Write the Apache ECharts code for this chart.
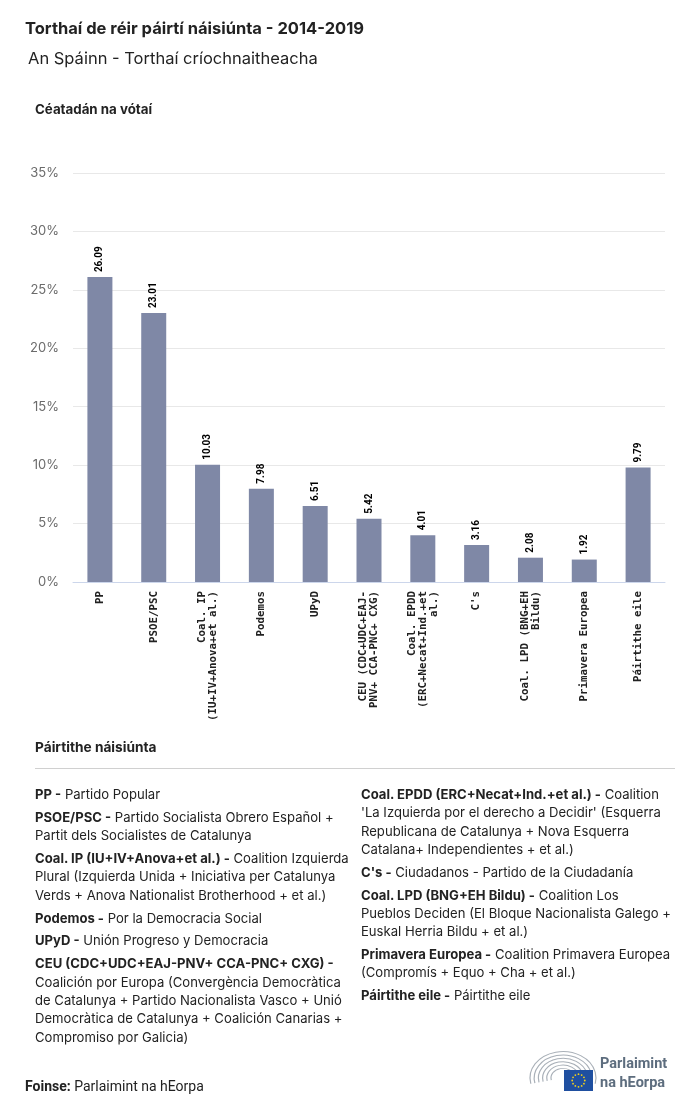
<!DOCTYPE html>
<html>
<head>
<meta charset="utf-8">
<script src="https://cdn.jsdelivr.net/npm/echarts@6/dist/echarts.min.js"></script>
<style>
  html, body { margin: 0; padding: 0; background: #fff; }
  #wrap { position: relative; width: 700px; height: 1113px; overflow: hidden; font-family: Inter, Roboto, "Noto Sans", sans-serif; color: #222; }
  #chart { position: absolute; left: 0; top: 0; width: 700px; height: 1113px; }
  .t { position: absolute; white-space: nowrap; }
  .col { position: absolute; top: 785px; font-size: 13.1px; line-height: 18.3px; color: #222; }
  .col p { margin: 0 0 4.6px 0; white-space: nowrap; }
  .col b { font-weight: 700; }
</style>
</head>
<body>
<div id="wrap">
  <div id="chart"></div>
  <div class="t" style="left:25px; top:18px; font-size:16.5px; font-weight:700;">Torthaí de réir páirtí náisiúnta - 2014-2019</div>
  <div class="t" style="left:28px; top:48px; font-size:16.5px; font-weight:400;">An Spáinn - Torthaí críochnaitheacha</div>
  <div class="t" style="left:35px; top:101px; font-size:13.3px; font-weight:700;">Céatadán na vótaí</div>
  <div class="t" style="left:35px; top:739px; font-size:13.7px; font-weight:700;">Páirtithe náisiúnta</div>
  <div class="t" style="left:35px; top:768px; width:640px; height:1px; background:#d0d0d0;"></div>
  <div class="col" style="left:35px;">
    <p><b>PP -</b> Partido Popular</p>
    <p><b>PSOE/PSC -</b> Partido Socialista Obrero Español +<br>Partit dels Socialistes de Catalunya</p>
    <p><b>Coal. IP (IU+IV+Anova+et al.) -</b> Coalition Izquierda<br>Plural (Izquierda Unida + Iniciativa per Catalunya<br>Verds + Anova Nationalist Brotherhood + et al.)</p>
    <p><b>Podemos -</b> Por la Democracia Social</p>
    <p><b>UPyD -</b> Unión Progreso y Democracia</p>
    <p><b>CEU (CDC+UDC+EAJ-PNV+ CCA-PNC+ CXG) -</b><br>Coalición por Europa (Convergència Democràtica<br>de Catalunya + Partido Nacionalista Vasco + Unió<br>Democràtica de Catalunya + Coalición Canarias +<br>Compromiso por Galicia)</p>
  </div>
  <div class="col" style="left:361px;">
    <p><b>Coal. EPDD (ERC+Necat+Ind.+et al.) -</b> Coalition<br>'La Izquierda por el derecho a Decidir' (Esquerra<br>Republicana de Catalunya + Nova Esquerra<br>Catalana+ Independientes + et al.)</p>
    <p><b>C's -</b> Ciudadanos - Partido de la Ciudadanía</p>
    <p><b>Coal. LPD (BNG+EH Bildu) -</b> Coalition Los<br>Pueblos Deciden (El Bloque Nacionalista Galego +<br>Euskal Herria Bildu + et al.)</p>
    <p><b>Primavera Europea -</b> Coalition Primavera Europea<br>(Compromís + Equo + Cha + et al.)</p>
    <p><b>Páirtithe eile -</b> Páirtithe eile</p>
  </div>
  <div class="t" style="left:25px; top:1078px; font-size:14px; font-family:Roboto;"><b>Foinse:</b> Parlaimint na hEorpa</div>
  <div class="t" style="left:600px; top:1054px; font-size:14.5px; font-weight:700; font-family:Roboto; color:#5d6d7e; line-height:19px;">Parlaimint<br>na hEorpa</div>
</div>
<script>
const categories = [
  'PP',
  'PSOE/PSC',
  'Coal. IP\n(IU+IV+Anova+et al.)',
  'Podemos',
  'UPyD',
  'CEU (CDC+UDC+EAJ-\nPNV+ CCA-PNC+ CXG)',
  'Coal. EPDD\n(ERC+Necat+Ind.+et\nal.)',
  "C's",
  'Coal. LPD (BNG+EH\nBildu)',
  'Primavera Europea',
  'Páirtithe eile'
];
const values = [26.09, 23.01, 10.03, 7.98, 6.51, 5.42, 4.01, 3.16, 2.08, 1.92, 9.79];
const yTicks = [0, 5, 10, 15, 20, 25, 30, 35];

const chart = echarts.init(document.getElementById('chart'), null, { renderer: 'canvas' });

// logo: parliament hemicycle arcs + EU flag
const arcs = [];
for (let i = 0; i < 6; i++) {
  const r = 12 + i * 4.2;
  arcs.push({
    type: 'arc', shape: { cx: 0, cy: 0, r: r, startAngle: Math.PI * 0.93, endAngle: Math.PI * 2.07 },
    style: { stroke: '#a9b0b8', lineWidth: 1.2, fill: null }, silent: true
  });
}
const logo = [{ type: 'group', x: 563, y: 1078, scaleX: 1, scaleY: 0.8, children: arcs }];
logo.push({ type: 'rect', shape: { x: 564, y: 1070, width: 29, height: 21 }, style: { fill: '#1f4fa0' }, z: 10 });
for (let k = 0; k < 12; k++) {
  const a = k / 12 * Math.PI * 2;
  logo.push({ type: 'circle', shape: { cx: 578.5 + Math.cos(a) * 6.3, cy: 1080.5 + Math.sin(a) * 6.3, r: 0.9 }, style: { fill: '#f5d21a' }, z: 11 });
}

chart.setOption({
  animation: false,
  grid: { left: 73, right: 35, top: 173, bottom: 531, containLabel: false },
  xAxis: {
    type: 'category',
    data: categories,
    axisLine: { lineStyle: { color: '#ccd6eb' } },
    axisTick: { show: false },
    axisLabel: {
      rotate: 90, interval: 0, margin: 9,
      fontFamily: 'DejaVu Sans Mono', fontSize: 10.8, fontWeight: 'bold', color: '#222', lineHeight: 11
    }
  },
  yAxis: {
    type: 'value', min: yTicks[0], max: yTicks[yTicks.length - 1], interval: 5,
    axisLabel: { formatter: '{value}%', color: '#6b6b6b', fontSize: 13, margin: 14, fontFamily: 'Inter' },
    splitLine: { lineStyle: { color: '#e8e8e8' } },
    axisLine: { show: false }, axisTick: { show: false }
  },
  series: [{
    type: 'bar',
    data: values,
    barWidth: 25,
    itemStyle: { color: '#7f88a6' },
    label: {
      show: true, position: 'top', rotate: 90, align: 'left', verticalAlign: 'middle', distance: 5,
      fontFamily: 'Roboto', fontSize: 10, fontWeight: 'bold', color: '#000',
      formatter: p => p.value.toFixed(2)
    }
  }],
  graphic: logo
});
</script>
</body>
</html>
